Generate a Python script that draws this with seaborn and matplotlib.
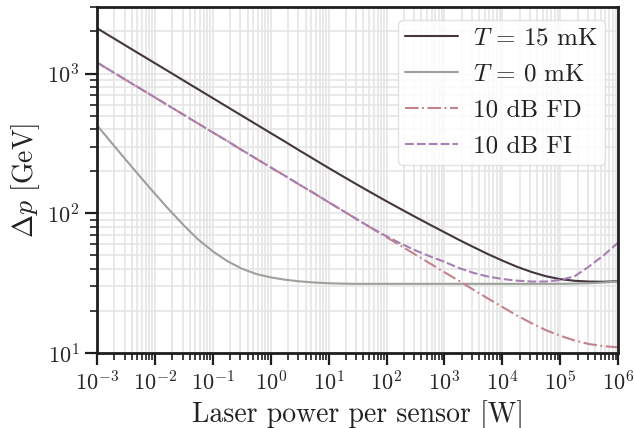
import numpy as np
import pandas as pd
import seaborn as sns
import matplotlib
matplotlib.use("Agg")
import matplotlib.pyplot as plt
from matplotlib.ticker import LogLocator, NullFormatter

# laser power per sensor [W], quarter-decade steps 1e-3 .. 1e6
power = [1e-3, 1.78e-3, 3.16e-3, 5.62e-3,
         1e-2, 1.78e-2, 3.16e-2, 5.62e-2,
         1e-1, 1.78e-1, 3.16e-1, 5.62e-1,
         1e0, 1.78e0, 3.16e0, 5.62e0,
         1e1, 1.78e1, 3.16e1, 5.62e1,
         1e2, 1.78e2, 3.16e2, 5.62e2,
         1e3, 1.78e3, 3.16e3, 5.62e3,
         1e4, 1.78e4, 3.16e4, 5.62e4,
         1e5, 1.78e5, 3.16e5, 5.62e5,
         1e6]

# momentum sensitivity [GeV]
dp_15mk = [2110, 1826, 1581, 1369, 1186, 1027, 889, 770, 667, 577, 500, 433,
           375, 325, 281, 243.5, 211, 183.5, 159.8, 139.5, 122, 107, 94.1, 82.9,
           73.2, 64.6, 57.4, 51.1, 45.9, 41.5, 38.1, 35.5, 33.8, 32.9, 32.5, 32.4,
           32.7]
dp_0mk = [426, 320, 241, 182, 138, 105.6, 81.9, 64.8, 53.5, 45.5, 40.2, 36.8,
          34.8, 33.5, 32.6, 32.0, 31.6, 31.4, 31.3, 31.3, 31.3, 31.3, 31.3, 31.3,
          31.3, 31.3, 31.3, 31.3, 31.3, 31.3, 31.3, 31.3, 31.3, 31.4, 31.6, 32.0,
          32.5]
dp_fd = [1200, 1039, 899, 779, 675, 584, 506, 438, 379, 329, 284, 246,
         213, 185, 160, 139, 120, 104, 90, 77.9, 67.5, 58.4, 50.6, 43.8,
         37.9, 32.9, 28.4, 24.6, 21.4, 18.6, 16.4, 14.6, 13.3, 12.3, 11.6, 11.2,
         11.0]
dp_fi = [1200, 1039, 899, 779, 675, 584, 506, 438, 379, 329, 284, 246,
         213, 185, 160, 139, 120, 104, 90, 78.3, 68.5, 60.7, 54.3, 49.2,
         45.0, 40.6, 37.5, 35.3, 33.9, 33.0, 32.5, 32.5, 33.3, 35.5, 41.7, 50.1,
         61.7]

labels = [r"$T\,=\,15$ mK", r"$T\,=\,0$ mK", "10 dB FD", "10 dB FI"]
colors = ["#43363c", "#9ca199", "#c4838c", "#a77fb2"]
styles = ["-", "-", (0, (6.5, 1.7, 0.9, 1.7)), (0, (4.2, 1.5))]

sns.set_theme(style="whitegrid")
plt.rcParams["font.family"] = "serif"
plt.rcParams["font.serif"] = ["cmr10", "DejaVu Serif"]
plt.rcParams["mathtext.fontset"] = "cm"
plt.rcParams["axes.formatter.use_mathtext"] = True
plt.rcParams["axes.unicode_minus"] = False

fig = plt.figure(figsize=(6.34, 4.28), dpi=100)
ax = fig.add_axes([0.153, 0.175, 0.822, 0.809])

for y, lab, c, ls in zip([dp_15mk, dp_0mk, dp_fd, dp_fi], labels, colors, styles):
    sns.lineplot(x=power, y=y, ax=ax, color=c, label=lab, linestyle=ls, linewidth=1.5)

ax.set_xscale("log")
ax.set_yscale("log")
ax.set_xlim(1e-3, 1e6)
ax.set_ylim(10, 3000)

ax.xaxis.set_major_locator(LogLocator(base=10, numticks=20))
ax.xaxis.set_minor_locator(LogLocator(base=10, subs=np.arange(2, 10), numticks=20))
ax.xaxis.set_minor_formatter(NullFormatter())
ax.yaxis.set_minor_formatter(NullFormatter())

ax.grid(True, which="major", color="#e5e5e5", linewidth=1.2)
ax.grid(True, which="minor", color="#e5e5e5", linewidth=1.2)
ax.set_axisbelow(True)

for s in ax.spines.values():
    s.set_color("#1e1e1e")
    s.set_linewidth(2.0)

ax.tick_params(which="major", direction="out", length=8.5, width=1.6,
               color="#1e1e1e", labelsize=16, left=True, bottom=True, pad=4)
ax.tick_params(which="minor", direction="out", length=5, width=1.2,
               color="#1e1e1e", left=True, bottom=True)

ax.set_xlabel("Laser power per sensor [W]", fontsize=20, color="#222222")
ax.set_ylabel(r"$\Delta p$ [GeV]", fontsize=20, color="#222222")

leg = ax.legend(loc="upper right", fontsize=18, frameon=True, framealpha=0.85,
                edgecolor="#dddddd", handlelength=2.1, handletextpad=0.6,
                borderpad=0.3, labelspacing=0.54, borderaxespad=0.52,
                fancybox=True)
for t in leg.get_texts():
    t.set_color("#222222")

fig.savefig("out.png", dpi=100)
